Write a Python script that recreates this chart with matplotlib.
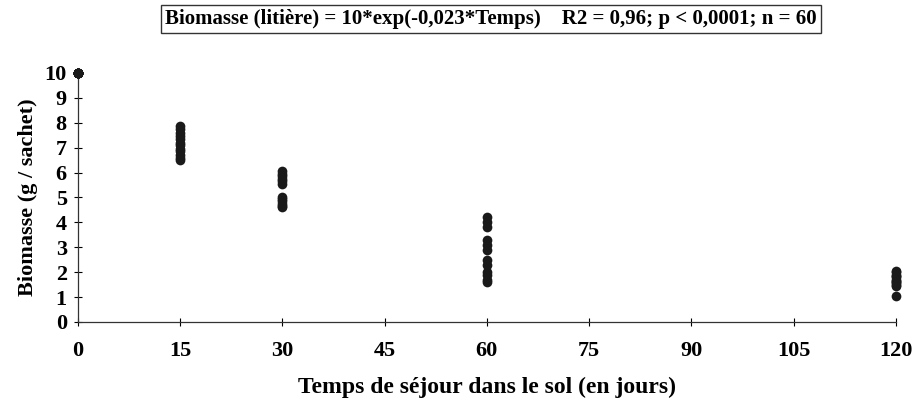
import numpy as np
import matplotlib.pyplot as plt

# sampling times (days) and litter biomass (g / bag), 12 bags per date
temps = [0, 15, 30, 60, 120]
biomasse_0 = [10.0] * 12
biomasse_15 = [7.85, 7.75, 7.6, 7.45, 7.35, 7.2, 7.1, 6.95, 6.85, 6.7, 6.6, 6.5]
biomasse_30 = [6.05, 5.95, 5.85, 5.75, 5.65, 5.55, 5.0, 4.95, 4.85, 4.75, 4.65, 4.6]
biomasse_60 = [4.2, 4.0, 3.8, 3.3, 3.1, 2.9, 2.5, 2.3, 2.0, 1.9, 1.7, 1.6]
biomasse_120 = [2.05, 2.0, 1.9, 1.85, 1.8, 1.7, 1.65, 1.6, 1.55, 1.5, 1.45, 1.05]

xticks = [0, 15, 30, 45, 60, 75, 90, 105, 120]
yticks = list(range(0, 11))

plt.rcParams['font.family'] = ['Liberation Serif', 'DejaVu Serif']
plt.rcParams['font.weight'] = 'bold'

fig = plt.figure(figsize=(9.14, 4.03), dpi=100)
ax = fig.add_axes([0.0853, 0.201, 0.8947, 0.618])

series = [biomasse_0, biomasse_15, biomasse_30, biomasse_60, biomasse_120]
for t, vals in zip(temps, series):
    ax.plot([t] * len(vals), vals, 'o', color='#1a1a1a', markersize=7,
            markeredgewidth=0, clip_on=False, zorder=3)

ax.set_xlim(0, 120)
ax.set_ylim(0, 10)
ax.set_xticks(xticks)
ax.set_yticks(yticks)
ax.tick_params(direction='inout', length=6, width=0.8, labelsize=16, pad=11)
ax.tick_params(axis='y', pad=5)
for lab in ax.get_xticklabels() + ax.get_yticklabels():
    lab.set_fontweight('bold')

for s in ['top', 'right']:
    ax.spines[s].set_visible(False)
for s in ['left', 'bottom']:
    ax.spines[s].set_color('#333333')
    ax.spines[s].set_linewidth(0.9)

ax.set_xlabel('Temps de séjour dans le sol (en jours)', fontsize=17,
              fontweight='bold', labelpad=11)
ax.set_ylabel('Biomasse (g / sachet)', fontsize=16, fontweight='bold', labelpad=5)

fig.text(0.537, 0.953,
         'Biomasse (litière) = 10*exp(-0,023*Temps)    R2 = 0,96; p < 0,0001; n = 60',
         ha='center', va='center', fontsize=15, fontweight='bold',
         bbox=dict(boxstyle='square,pad=0.2', facecolor='white',
                   edgecolor='#333333', linewidth=1))

fig.savefig('out.png', dpi=100)
